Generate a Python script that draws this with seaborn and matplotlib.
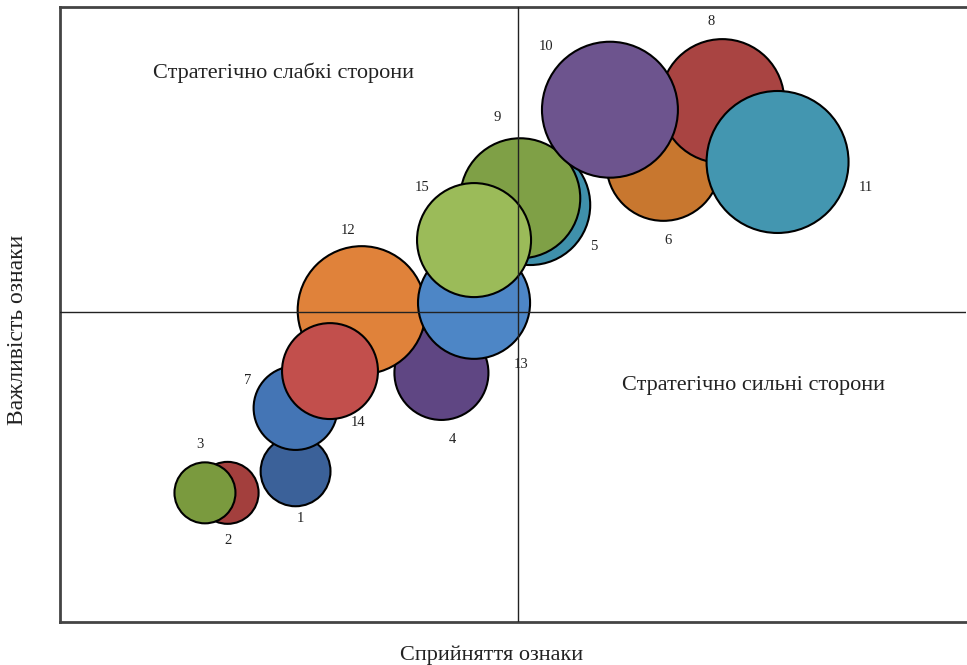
import matplotlib
matplotlib.use("Agg")
import matplotlib.pyplot as plt
import seaborn as sns
import pandas as pd

sns.set_theme(style="white")
plt.rcParams['font.family'] = ['Liberation Serif', 'DejaVu Serif']

# data listed in drawing order
labels = ["2", "3", "1", "7", "4", "12", "14", "13", "5", "9", "15", "6", "8", "10", "11"]
perception = [1.85, 1.60, 2.60, 2.60, 4.21, 3.33, 2.98, 4.57, 5.19, 5.08, 4.57, 6.66, 7.31, 6.07, 7.92]
importance = [2.10, 2.10, 2.45, 3.48, 4.05, 5.07, 4.08, 5.19, 6.78, 6.89, 6.21, 7.45, 8.47, 8.33, 7.48]
weight = [9.6, 9.3, 12.2, 17.6, 22.1, 41.0, 23.0, 31.4, 36.0, 36.0, 32.5, 32.5, 38.4, 46.2, 50.4]
colors = ["#A33F3D", "#7A9A3E", "#3B6199", "#4475B5", "#5F4683", "#E0823A", "#C24F4C",
          "#4D86C6", "#3F90AB", "#7FA046", "#9BBB59", "#C8772F", "#A94442", "#6D548E", "#4396B0"]
# label offsets (data units) relative to bubble centers
label_dx = [0.00, -0.05, 0.05, -0.53, 0.12, -0.15, 0.31, 0.52, 0.70, -0.25, -0.57, 0.05, -0.12, -0.70, 0.98]
label_dy = [-0.77, 0.78, -0.76, 0.45, -1.09, 1.30, -0.83, -1.01, -0.68, 1.31, 0.85, -1.24, 1.29, 1.02, -0.41]

x_mid, y_mid = 5.06, 5.04
quad_texts = ["Стратегічно слабкі сторони", "Стратегічно сильні сторони"]
quad_pos = [(2.47, 8.93), (7.66, 3.85)]
xlabel = "Сприйняття ознаки"
ylabel = "Важливість ознаки"

df = pd.DataFrame({"label": labels, "x": perception, "y": importance, "w": weight})

fig = plt.figure(figsize=(9.67, 6.65), dpi=100)
ax = fig.add_axes([60 / 967, 1 - 622 / 665, 906 / 967, 615 / 665])

wmax = max(weight)
sns.scatterplot(data=df, x="x", y="y", size="w", sizes=(0, wmax * 207.36),
                size_norm=(0, wmax), hue="label", palette=colors,
                edgecolor="black", linewidth=1.5, alpha=1, legend=False, ax=ax, zorder=2)

for lab, x, y, dx, dy in zip(labels, perception, importance, label_dx, label_dy):
    ax.text(x + dx, y + dy, lab, ha="center", va="center", fontsize=10.5, color="#222222", zorder=4)

ax.axvline(x_mid, color="#222222", lw=1, zorder=3)
ax.axhline(y_mid, color="#222222", lw=1, zorder=3)

for t, (tx, ty) in zip(quad_texts, quad_pos):
    ax.text(tx, ty, t, ha="center", va="center", fontsize=16, color="#222222", zorder=4)

ax.set_xlim(0, 10)
ax.set_ylim(0, 10)
ax.set_xticks([])
ax.set_yticks([])
ax.set_xlabel("")
ax.set_ylabel("")
for side in ["left", "bottom", "top"]:
    ax.spines[side].set_color("#444444")
    ax.spines[side].set_linewidth(2)
ax.spines["right"].set_visible(False)

fig.text(492 / 967, 1 - 655 / 665, xlabel, ha="center", va="center", fontsize=16, color="#222222")
fig.text(18 / 967, 1 - 330 / 665, ylabel, ha="center", va="center", rotation=90, fontsize=17, color="#222222")

fig.savefig("out.png", dpi=100)
